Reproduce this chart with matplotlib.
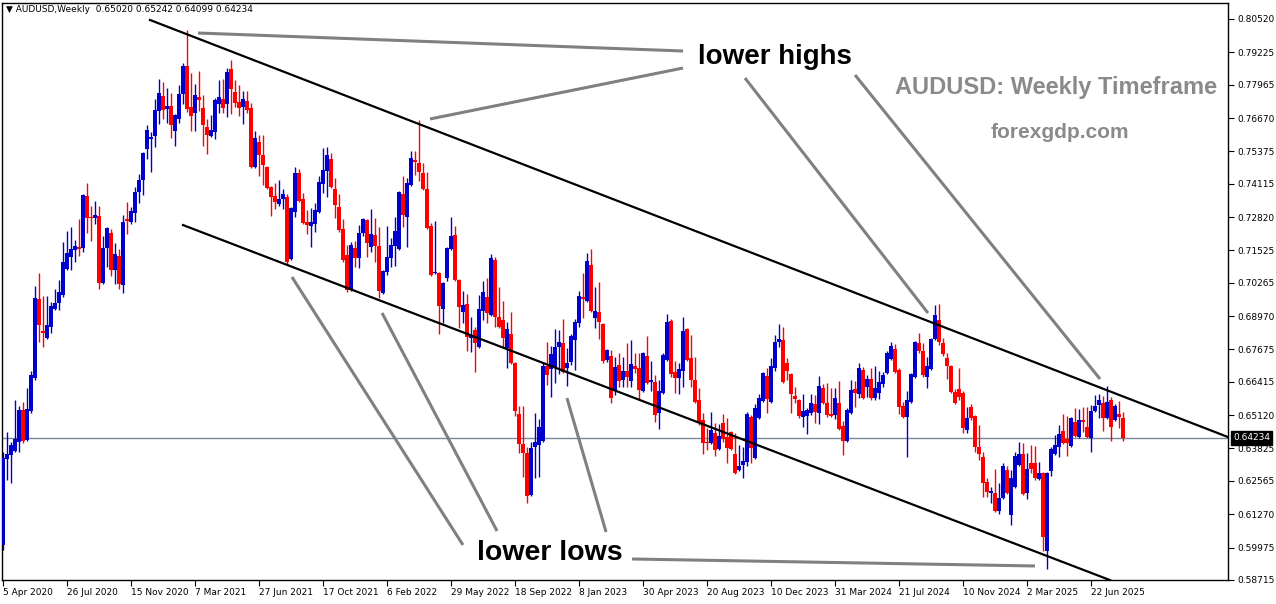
import matplotlib
matplotlib.use('Agg')
import matplotlib.pyplot as plt
import matplotlib.transforms as mtransforms
import numpy as np

# AUDUSD weekly candles, first bar = week of 5 Apr 2020
open_prices = [
    0.6008, 0.6342, 0.6357, 0.6373, 0.6408, 0.6532, 0.6416, 0.6528, 0.6657, 0.6964,
    0.6839, 0.6812, 0.6855, 0.6925, 0.6948, 0.6979, 0.7080, 0.7127, 0.7154, 0.7166,
    0.7162, 0.7364, 0.7283, 0.7279, 0.7287, 0.7026, 0.7162, 0.7220, 0.7076, 0.7131,
    0.7018, 0.7275, 0.7263, 0.7298, 0.7380, 0.7426, 0.7547, 0.7586, 0.7598, 0.7694,
    0.7753, 0.7702, 0.7714, 0.7617, 0.7664, 0.7761, 0.7869, 0.7710, 0.7687, 0.7749,
    0.7706, 0.7633, 0.7598, 0.7613, 0.7722, 0.7741, 0.7722, 0.7858, 0.7768, 0.7729,
    0.7710, 0.7733, 0.7706, 0.7477, 0.7574, 0.7524, 0.7477, 0.7399, 0.7364, 0.7333,
    0.7353, 0.7360, 0.7119, 0.7302, 0.7454, 0.7353, 0.7263, 0.7248, 0.7255, 0.7302,
    0.7411, 0.7461, 0.7508, 0.7391, 0.7321, 0.7236, 0.7135, 0.6999, 0.7162, 0.7123,
    0.7220, 0.7271, 0.7166, 0.7213, 0.7170, 0.6987, 0.7069, 0.7123, 0.7170, 0.7158,
    0.7372, 0.7283, 0.7407, 0.7504, 0.7493, 0.7454, 0.7391, 0.7248, 0.7065, 0.7065,
    0.6925, 0.7045, 0.7158, 0.7213, 0.7038, 0.6914, 0.6945, 0.6812, 0.6843, 0.6777,
    0.6917, 0.6972, 0.6902, 0.7115, 0.6894, 0.6882, 0.6773, 0.6828, 0.6715, 0.6517,
    0.6400, 0.6365, 0.6202, 0.6389, 0.6396, 0.6412, 0.6703, 0.6692, 0.6699, 0.6777,
    0.6793, 0.6696, 0.6719, 0.6804, 0.6870, 0.6972, 0.6956, 0.7096, 0.6890, 0.6914,
    0.6867, 0.6727, 0.6742, 0.6610, 0.6707, 0.6649, 0.6684, 0.6645, 0.6703, 0.6696,
    0.6606, 0.6742, 0.6641, 0.6641, 0.6521, 0.6598, 0.6727, 0.6878, 0.6680, 0.6657,
    0.6684, 0.6847, 0.6734, 0.6649, 0.6571, 0.6493, 0.6406, 0.6404, 0.6443, 0.6381,
    0.6482, 0.6427, 0.6447, 0.6361, 0.6299, 0.6318, 0.6330, 0.6505, 0.6346, 0.6501,
    0.6567, 0.6665, 0.6563, 0.6696, 0.6797, 0.6804, 0.6715, 0.6672, 0.6587, 0.6571,
    0.6505, 0.6509, 0.6521, 0.6556, 0.6521, 0.6618, 0.6560, 0.6517, 0.6513, 0.6560,
    0.6470, 0.6412, 0.6521, 0.6614, 0.6594, 0.6688, 0.6622, 0.6653, 0.6579, 0.6598,
    0.6633, 0.6676, 0.6731, 0.6769, 0.6688, 0.6548, 0.6505, 0.6563, 0.6661, 0.6793,
    0.6762, 0.6661, 0.6692, 0.6808, 0.6882, 0.6793, 0.6734, 0.6703, 0.6602, 0.6614,
    0.6598, 0.6455, 0.6544, 0.6509, 0.6389, 0.6350, 0.6252, 0.6209, 0.6209, 0.6140,
    0.6190, 0.6299, 0.6124, 0.6233, 0.6318, 0.6361, 0.6209, 0.6326, 0.6326, 0.6264,
    0.6287, 0.5984, 0.6295, 0.6361, 0.6388, 0.6451, 0.6420, 0.6392, 0.6486, 0.6427,
    0.6493, 0.6466, 0.6423, 0.6528, 0.6552, 0.6560, 0.6501, 0.6571, 0.6493, 0.6517,
    0.6502,
]
high_prices = [
    0.6369, 0.6447, 0.6408, 0.6571, 0.6548, 0.6563, 0.6618, 0.6684, 0.7015, 0.7065,
    0.6976, 0.6976, 0.6952, 0.7003, 0.7038, 0.7185, 0.7228, 0.7244, 0.7193, 0.7275,
    0.7372, 0.7414, 0.7325, 0.7345, 0.7325, 0.7209, 0.7244, 0.7236, 0.7181, 0.7158,
    0.7291, 0.7341, 0.7321, 0.7399, 0.7450, 0.7535, 0.7640, 0.7613, 0.7741, 0.7819,
    0.7807, 0.7784, 0.7764, 0.7683, 0.7796, 0.7881, 0.8009, 0.7842, 0.7800, 0.7850,
    0.7757, 0.7664, 0.7679, 0.7745, 0.7815, 0.7819, 0.7862, 0.7893, 0.7815, 0.7796,
    0.7772, 0.7772, 0.7726, 0.7617, 0.7602, 0.7602, 0.7481, 0.7403, 0.7414, 0.7426,
    0.7391, 0.7372, 0.7321, 0.7477, 0.7469, 0.7376, 0.7310, 0.7317, 0.7337, 0.7442,
    0.7551, 0.7555, 0.7531, 0.7434, 0.7372, 0.7275, 0.7174, 0.7185, 0.7189, 0.7252,
    0.7279, 0.7275, 0.7314, 0.7279, 0.7244, 0.7076, 0.7248, 0.7201, 0.7283, 0.7384,
    0.7442, 0.7434, 0.7539, 0.7539, 0.7661, 0.7493, 0.7458, 0.7259, 0.7267, 0.7069,
    0.7030, 0.7166, 0.7283, 0.7248, 0.7042, 0.6995, 0.6983, 0.6894, 0.6855, 0.6979,
    0.7034, 0.7045, 0.7138, 0.7127, 0.7010, 0.6956, 0.6874, 0.6913, 0.6719, 0.6548,
    0.6548, 0.6388, 0.6408, 0.6521, 0.6497, 0.6715, 0.6797, 0.6781, 0.6847, 0.6843,
    0.6886, 0.6773, 0.6828, 0.6886, 0.6995, 0.7065, 0.7142, 0.7158, 0.7010, 0.7030,
    0.6870, 0.6769, 0.6765, 0.6738, 0.6754, 0.6738, 0.6793, 0.6804, 0.6754, 0.6754,
    0.6758, 0.6820, 0.6723, 0.6668, 0.6649, 0.6754, 0.6905, 0.6886, 0.6723, 0.6715,
    0.6894, 0.6851, 0.6824, 0.6738, 0.6618, 0.6521, 0.6462, 0.6524, 0.6482, 0.6478,
    0.6517, 0.6501, 0.6451, 0.6443, 0.6396, 0.6388, 0.6524, 0.6513, 0.6556, 0.6594,
    0.6680, 0.6696, 0.6734, 0.6824, 0.6867, 0.6855, 0.6734, 0.6676, 0.6622, 0.6575,
    0.6594, 0.6540, 0.6594, 0.6591, 0.6665, 0.6633, 0.6637, 0.6618, 0.6618, 0.6645,
    0.6489, 0.6540, 0.6649, 0.6645, 0.6715, 0.6699, 0.6668, 0.6696, 0.6703, 0.6684,
    0.6680, 0.6762, 0.6797, 0.6789, 0.6696, 0.6563, 0.6606, 0.6676, 0.6801, 0.6832,
    0.6793, 0.6738, 0.6812, 0.6941, 0.6945, 0.6812, 0.6754, 0.6707, 0.6614, 0.6696,
    0.6606, 0.6544, 0.6556, 0.6513, 0.6474, 0.6369, 0.6268, 0.6233, 0.6303, 0.6248,
    0.6326, 0.6314, 0.6299, 0.6369, 0.6408, 0.6404, 0.6365, 0.6396, 0.6392, 0.6330,
    0.6291, 0.6291, 0.6388, 0.6435, 0.6474, 0.6517, 0.6509, 0.6505, 0.6540, 0.6536,
    0.6544, 0.6544, 0.6552, 0.6591, 0.6594, 0.6587, 0.6625, 0.6583, 0.6556, 0.6567,
    0.6524,
]
low_prices = [
    0.5988, 0.6260, 0.6248, 0.6370, 0.6369, 0.6404, 0.6412, 0.6520, 0.6649, 0.6797,
    0.6777, 0.6808, 0.6832, 0.6921, 0.6921, 0.6972, 0.7076, 0.7076, 0.7107, 0.7131,
    0.7146, 0.7220, 0.7189, 0.7255, 0.7003, 0.7022, 0.7088, 0.7053, 0.7022, 0.7003,
    0.6987, 0.7216, 0.7255, 0.7263, 0.7337, 0.7368, 0.7508, 0.7458, 0.7555, 0.7644,
    0.7664, 0.7648, 0.7590, 0.7559, 0.7648, 0.7722, 0.7690, 0.7617, 0.7617, 0.7694,
    0.7559, 0.7528, 0.7594, 0.7586, 0.7687, 0.7687, 0.7671, 0.7683, 0.7710, 0.7675,
    0.7644, 0.7687, 0.7473, 0.7473, 0.7442, 0.7407, 0.7391, 0.7287, 0.7314, 0.7325,
    0.7314, 0.7096, 0.7115, 0.7283, 0.7341, 0.7255, 0.7216, 0.7166, 0.7224, 0.7298,
    0.7376, 0.7360, 0.7395, 0.7279, 0.7224, 0.7107, 0.6991, 0.6995, 0.7088, 0.7084,
    0.7209, 0.7127, 0.7146, 0.7107, 0.6968, 0.6983, 0.7057, 0.7088, 0.7092, 0.7154,
    0.7244, 0.7166, 0.7403, 0.7446, 0.7422, 0.7387, 0.7236, 0.7053, 0.7061, 0.6828,
    0.6870, 0.7034, 0.7154, 0.7034, 0.6851, 0.6870, 0.6762, 0.6758, 0.6680, 0.6773,
    0.6882, 0.6870, 0.6898, 0.6855, 0.6851, 0.6777, 0.6696, 0.6711, 0.6509, 0.6365,
    0.6272, 0.6171, 0.6198, 0.6268, 0.6272, 0.6408, 0.6629, 0.6583, 0.6637, 0.6672,
    0.6676, 0.6626, 0.6707, 0.6688, 0.6855, 0.6890, 0.6952, 0.6914, 0.6851, 0.6808,
    0.6715, 0.6719, 0.6560, 0.6591, 0.6622, 0.6622, 0.6622, 0.6622, 0.6676, 0.6571,
    0.6602, 0.6633, 0.6606, 0.6485, 0.6458, 0.6594, 0.6723, 0.6661, 0.6598, 0.6594,
    0.6622, 0.6723, 0.6622, 0.6560, 0.6474, 0.6361, 0.6377, 0.6400, 0.6353, 0.6377,
    0.6408, 0.6326, 0.6377, 0.6283, 0.6295, 0.6268, 0.6314, 0.6326, 0.6342, 0.6497,
    0.6563, 0.6521, 0.6560, 0.6684, 0.6777, 0.6637, 0.6649, 0.6521, 0.6560, 0.6501,
    0.6466, 0.6439, 0.6513, 0.6482, 0.6478, 0.6556, 0.6505, 0.6505, 0.6497, 0.6455,
    0.6357, 0.6408, 0.6517, 0.6544, 0.6579, 0.6575, 0.6583, 0.6571, 0.6571, 0.6575,
    0.6622, 0.6672, 0.6727, 0.6676, 0.6517, 0.6501, 0.6350, 0.6560, 0.6658, 0.6754,
    0.6661, 0.6618, 0.6688, 0.6804, 0.6785, 0.6742, 0.6653, 0.6598, 0.6556, 0.6571,
    0.6443, 0.6443, 0.6493, 0.6369, 0.6338, 0.6194, 0.6194, 0.6171, 0.6136, 0.6128,
    0.6186, 0.6205, 0.6085, 0.6229, 0.6314, 0.6202, 0.6186, 0.6287, 0.6260, 0.6260,
    0.5984, 0.5914, 0.6276, 0.6357, 0.6350, 0.6400, 0.6353, 0.6389, 0.6427, 0.6424,
    0.6447, 0.6424, 0.6369, 0.6524, 0.6501, 0.6451, 0.6497, 0.6412, 0.6489, 0.6462,
    0.6410,
]
close_prices = [
    0.6346, 0.6361, 0.6396, 0.6420, 0.6532, 0.6412, 0.6536, 0.6668, 0.6968, 0.6863,
    0.6832, 0.6863, 0.6937, 0.6948, 0.6991, 0.7107, 0.7142, 0.7158, 0.7170, 0.7158,
    0.7368, 0.7279, 0.7279, 0.7291, 0.7026, 0.7162, 0.7240, 0.7076, 0.7138, 0.7022,
    0.7263, 0.7267, 0.7306, 0.7380, 0.7426, 0.7531, 0.7621, 0.7594, 0.7698, 0.7764,
    0.7698, 0.7714, 0.7640, 0.7679, 0.7761, 0.7869, 0.7702, 0.7675, 0.7757, 0.7737,
    0.7640, 0.7602, 0.7621, 0.7737, 0.7749, 0.7706, 0.7846, 0.7780, 0.7726, 0.7706,
    0.7741, 0.7698, 0.7477, 0.7590, 0.7524, 0.7485, 0.7395, 0.7360, 0.7341, 0.7353,
    0.7372, 0.7107, 0.7317, 0.7454, 0.7345, 0.7259, 0.7252, 0.7263, 0.7310, 0.7418,
    0.7465, 0.7524, 0.7399, 0.7329, 0.7232, 0.7115, 0.6999, 0.7174, 0.7123, 0.7220,
    0.7275, 0.7181, 0.7216, 0.7170, 0.6995, 0.7073, 0.7127, 0.7174, 0.7228, 0.7380,
    0.7291, 0.7414, 0.7512, 0.7497, 0.7458, 0.7391, 0.7240, 0.7057, 0.7069, 0.6937,
    0.7026, 0.7162, 0.7209, 0.7038, 0.6933, 0.6941, 0.6816, 0.6824, 0.6793, 0.6925,
    0.6991, 0.6910, 0.7123, 0.6894, 0.6855, 0.6812, 0.6847, 0.6715, 0.6528, 0.6400,
    0.6365, 0.6198, 0.6385, 0.6408, 0.6466, 0.6703, 0.6668, 0.6750, 0.6777, 0.6797,
    0.6680, 0.6715, 0.6820, 0.6874, 0.6976, 0.6964, 0.7111, 0.6917, 0.6917, 0.6874,
    0.6723, 0.6765, 0.6579, 0.6699, 0.6645, 0.6684, 0.6661, 0.6711, 0.6692, 0.6610,
    0.6754, 0.6637, 0.6649, 0.6513, 0.6606, 0.6746, 0.6874, 0.6672, 0.6657, 0.6692,
    0.6839, 0.6727, 0.6649, 0.6563, 0.6482, 0.6404, 0.6402, 0.6455, 0.6377, 0.6431,
    0.6420, 0.6385, 0.6381, 0.6287, 0.6314, 0.6334, 0.6517, 0.6385, 0.6540, 0.6579,
    0.6676, 0.6575, 0.6703, 0.6797, 0.6808, 0.6641, 0.6684, 0.6594, 0.6575, 0.6509,
    0.6528, 0.6532, 0.6560, 0.6524, 0.6626, 0.6560, 0.6513, 0.6509, 0.6579, 0.6458,
    0.6412, 0.6532, 0.6610, 0.6598, 0.6696, 0.6579, 0.6653, 0.6579, 0.6618, 0.6641,
    0.6668, 0.6754, 0.6781, 0.6680, 0.6544, 0.6505, 0.6571, 0.6672, 0.6797, 0.6762,
    0.6668, 0.6703, 0.6808, 0.6902, 0.6797, 0.6750, 0.6703, 0.6602, 0.6560, 0.6583,
    0.6462, 0.6501, 0.6501, 0.6389, 0.6361, 0.6248, 0.6213, 0.6217, 0.6140, 0.6190,
    0.6314, 0.6209, 0.6268, 0.6353, 0.6361, 0.6205, 0.6303, 0.6303, 0.6268, 0.6287,
    0.6039, 0.6287, 0.6381, 0.6396, 0.6439, 0.6404, 0.6404, 0.6501, 0.6431, 0.6493,
    0.6486, 0.6427, 0.6528, 0.6548, 0.6571, 0.6501, 0.6563, 0.6466, 0.6548, 0.6505,
    0.6423,
]

# x axis: one date label every 16 weeks
date_labels = ['5 Apr 2020', '26 Jul 2020', '15 Nov 2020', '7 Mar 2021', '27 Jun 2021',
               '17 Oct 2021', '6 Feb 2022', '29 May 2022', '18 Sep 2022', '8 Jan 2023',
               '30 Apr 2023', '20 Aug 2023', '10 Dec 2023', '31 Mar 2024', '21 Jul 2024',
               '10 Nov 2024', '2 Mar 2025', '22 Jun 2025']
weeks_per_label = 16

price_ticks = [0.80520, 0.79225, 0.77965, 0.76670, 0.75375, 0.74115, 0.72820, 0.71525,
               0.70265, 0.68970, 0.67675, 0.66415, 0.65120, 0.63825, 0.62565, 0.61270,
               0.59975, 0.58715]
last_price = 0.64234
header = 'AUDUSD,Weekly  0.65020 0.65242 0.64099 0.64234'

# channel lines drawn on the chart (bar index, price)
upper_line_x = [36.75, 306.25]
upper_line_y = [0.8048, 0.6427]
lower_line_x = [45, 276.75]
lower_line_y = [0.7251, 0.5871]

# gray pointer lines, axes fraction (x0, y0, x1, y1)
high_pointers = [(0.1599, 0.948, 0.5555, 0.9168),
                 (0.3491, 0.799, 0.5555, 0.8873),
                 (0.6060, 0.870, 0.7553, 0.4627),
                 (0.6958, 0.8752, 0.8956, 0.3484)]
low_pointers = [(0.2365, 0.5251, 0.3760, 0.0607),
                (0.3100, 0.4627, 0.4038, 0.0849),
                (0.4608, 0.3154, 0.4927, 0.0832),
                (0.5139, 0.0364, 0.8426, 0.0243)]

W, H = 1276, 604
fig = plt.figure(figsize=(W / 100, H / 100), dpi=100)
ax = fig.add_axes([2 / W, 24 / H, 1226 / W, 577 / H])

o = np.array(open_prices)
hi = np.array(high_prices)
lo = np.array(low_prices)
c = np.array(close_prices)
idx = np.arange(len(o))
colors = np.where(c >= o, '#0000cd', '#ff0000')

ax.axhline(last_price, color='#778899', lw=1, zorder=0)
ax.vlines(idx, lo, hi, colors=colors, lw=1.0, zorder=2)
body_h = np.maximum(np.abs(c - o), 0.0003)
ax.bar(idx, body_h, bottom=np.minimum(o, c), width=0.8, color=colors,
       linewidth=0, zorder=3)

ax.plot(upper_line_x, upper_line_y, color='black', lw=1.6, zorder=4)
ax.plot(lower_line_x, lower_line_y, color='black', lw=1.6, zorder=4)

for x0, y0, x1, y1 in high_pointers + low_pointers:
    ax.plot([x0, x1], [y0, y1], transform=ax.transAxes, color='#808080', lw=2.2,
            solid_capstyle='butt', zorder=5, clip_on=False)

bold = dict(family='Liberation Sans', fontweight='bold')
ax.text(0.6305, 0.9064, 'lower highs', transform=ax.transAxes, ha='center',
        va='center', fontsize=20, color='black', zorder=6, **bold)
ax.text(0.447, 0.0468, 'lower lows', transform=ax.transAxes, ha='center',
        va='center', fontsize=20.5, color='black', zorder=6, **bold)
ax.text(0.8597, 0.8527, 'AUDUSD: Weekly Timeframe', transform=ax.transAxes,
        ha='center', va='center', fontsize=17, color='#8a8a8a', **bold)
ax.text(0.863, 0.7764, 'forexgdp.com', transform=ax.transAxes, ha='center',
        va='center', fontsize=15, color='#8a8a8a', **bold)

ax.set_xlim(-0.25, 306.25)
ax.set_ylim(0.58714, 0.8114)

ax.yaxis.tick_right()
ax.set_yticks(price_ticks)
ax.set_yticklabels([f'{v:.5f}' for v in price_ticks])
ax.tick_params(axis='y', direction='out', length=4, width=0.8, labelsize=6.5, pad=3)

xt = idx[::weeks_per_label][:len(date_labels)]
ax.set_xticks(xt)
ax.set_xticklabels(date_labels, ha='left')
ax.tick_params(axis='x', direction='out', length=4, width=0.8, labelsize=6.5, pad=2)

for s in ax.spines.values():
    s.set_color('black')
    s.set_linewidth(1)

trans = mtransforms.blended_transform_factory(ax.transAxes, ax.transData)
ax.text(1.004, last_price, f'{last_price:.5f}', transform=trans, ha='left',
        va='center', fontsize=6.5, color='white', zorder=7,
        bbox=dict(boxstyle='square,pad=0.25', fc='black', ec='black'))

fig.text(6 / W, 1 - 10 / H, '\u25bc ' + header, fontsize=6.5, va='center')

fig.savefig('out.png', dpi=100)
